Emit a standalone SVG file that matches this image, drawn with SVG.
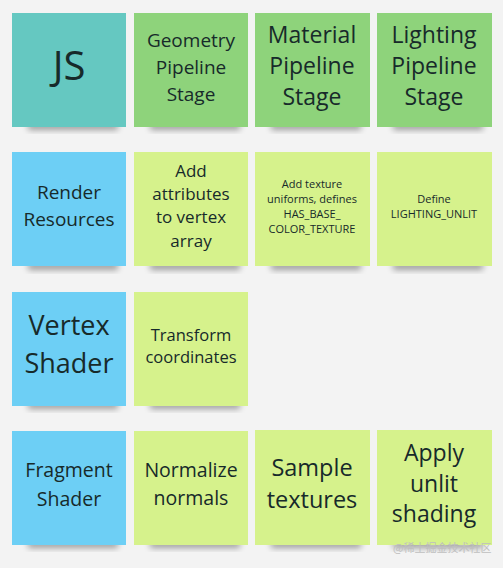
<svg xmlns="http://www.w3.org/2000/svg" width="503" height="568" viewBox="0 0 503 568">
<defs>
<filter id="sh" x="-20%" y="-50%" width="140%" height="200%"><feGaussianBlur stdDeviation="3"/></filter>
<style>
text{font-family:"Open Sans","Noto Sans","DejaVu Sans",sans-serif;fill:#172a2a;text-anchor:middle}
.shadow{fill:#000;opacity:0.35;filter:url(#sh)}
.teal{fill:#65c8c1}.green{fill:#8ed37b}.blue{fill:#6dcff5}.lime{fill:#d6f28c}
.wm{font-family:"Noto Sans CJK SC",sans-serif;fill:#bfbfbf;text-anchor:start;font-size:11px}
</style>
</defs>
<rect width="503" height="568" fill="#f3f3f3"/>
<g id="js"><rect class="shadow" x="28" y="122" width="90" height="8"/><rect class="teal" x="12" y="13" width="114" height="114"/><text x="69" y="80" font-size="40">JS</text></g>
<g id="geometry"><rect class="shadow" x="150" y="122" width="90" height="8"/><rect class="green" x="134" y="13" width="114" height="114"/><text font-size="19"><tspan x="191" y="47">Geometry</tspan><tspan x="191" y="74">Pipeline</tspan><tspan x="191" y="101">Stage</tspan></text></g>
<g id="material"><rect class="shadow" x="271" y="122" width="90" height="8"/><rect class="green" x="255" y="13" width="115" height="114"/><text font-size="23"><tspan x="312" y="43">Material</tspan><tspan x="312" y="74">Pipeline</tspan><tspan x="312" y="105">Stage</tspan></text></g>
<g id="lighting"><rect class="shadow" x="393" y="122" width="90" height="8"/><rect class="green" x="377" y="13" width="115" height="114"/><text font-size="23"><tspan x="434" y="43">Lighting</tspan><tspan x="434" y="74">Pipeline</tspan><tspan x="434" y="105">Stage</tspan></text></g>
<g id="render"><rect class="shadow" x="28" y="262" width="90" height="8"/><rect class="blue" x="12" y="152" width="114" height="114"/><text font-size="19"><tspan x="69" y="199">Render</tspan><tspan x="69" y="226">Resources</tspan></text></g>
<g id="attributes"><rect class="shadow" x="150" y="262" width="90" height="8"/><rect class="lime" x="134" y="152" width="114" height="114"/><text font-size="17"><tspan x="191" y="177">Add</tspan><tspan x="191" y="200">attributes</tspan><tspan x="191" y="223">to vertex</tspan><tspan x="191" y="247">array</tspan></text></g>
<g id="texture"><rect class="shadow" x="271" y="262" width="90" height="8"/><rect class="lime" x="255" y="152" width="115" height="114"/><text font-size="11"><tspan x="312" y="188">Add texture</tspan><tspan x="312" y="203">uniforms, defines</tspan><tspan x="312" y="218">HAS_BASE_</tspan><tspan x="312" y="233">COLOR_TEXTURE</tspan></text></g>
<g id="define"><rect class="shadow" x="393" y="262" width="90" height="8"/><rect class="lime" x="377" y="152" width="115" height="114"/><text font-size="11"><tspan x="434" y="203">Define</tspan><tspan x="434" y="218">LIGHTING_UNLIT</tspan></text></g>
<g id="vertex"><rect class="shadow" x="28" y="401" width="90" height="8"/><rect class="blue" x="12" y="292" width="114" height="114"/><text font-size="27"><tspan x="69" y="335">Vertex</tspan><tspan x="69" y="373">Shader</tspan></text></g>
<g id="transform"><rect class="shadow" x="150" y="401" width="90" height="8"/><rect class="lime" x="134" y="292" width="114" height="114"/><text font-size="16.5"><tspan x="191" y="341">Transform</tspan><tspan x="191" y="363">coordinates</tspan></text></g>
<g id="fragment"><rect class="shadow" x="28" y="540" width="90" height="8"/><rect class="blue" x="12" y="431" width="114" height="114"/><text font-size="19.5"><tspan x="69" y="477">Fragment</tspan><tspan x="69" y="506">Shader</tspan></text></g>
<g id="normalize"><rect class="shadow" x="150" y="540" width="90" height="8"/><rect class="lime" x="134" y="431" width="114" height="114"/><text font-size="19.5"><tspan x="191" y="477">Normalize</tspan><tspan x="191" y="505">normals</tspan></text></g>
<g id="sample"><rect class="shadow" x="271" y="540" width="90" height="8"/><rect class="lime" x="255" y="430" width="115" height="115"/><text font-size="23.5"><tspan x="312" y="476">Sample</tspan><tspan x="312" y="508">textures</tspan></text></g>
<g id="apply"><rect class="shadow" x="393" y="540" width="90" height="8"/><rect class="lime" x="377" y="430" width="115" height="115"/><text font-size="23"><tspan x="434" y="461">Apply</tspan><tspan x="434" y="492">unlit</tspan><tspan x="434" y="522">shading</tspan></text></g>
<g id="connectors"/>
<text class="wm" x="393" y="552">@稀土掘金技术社区</text>
</svg>
